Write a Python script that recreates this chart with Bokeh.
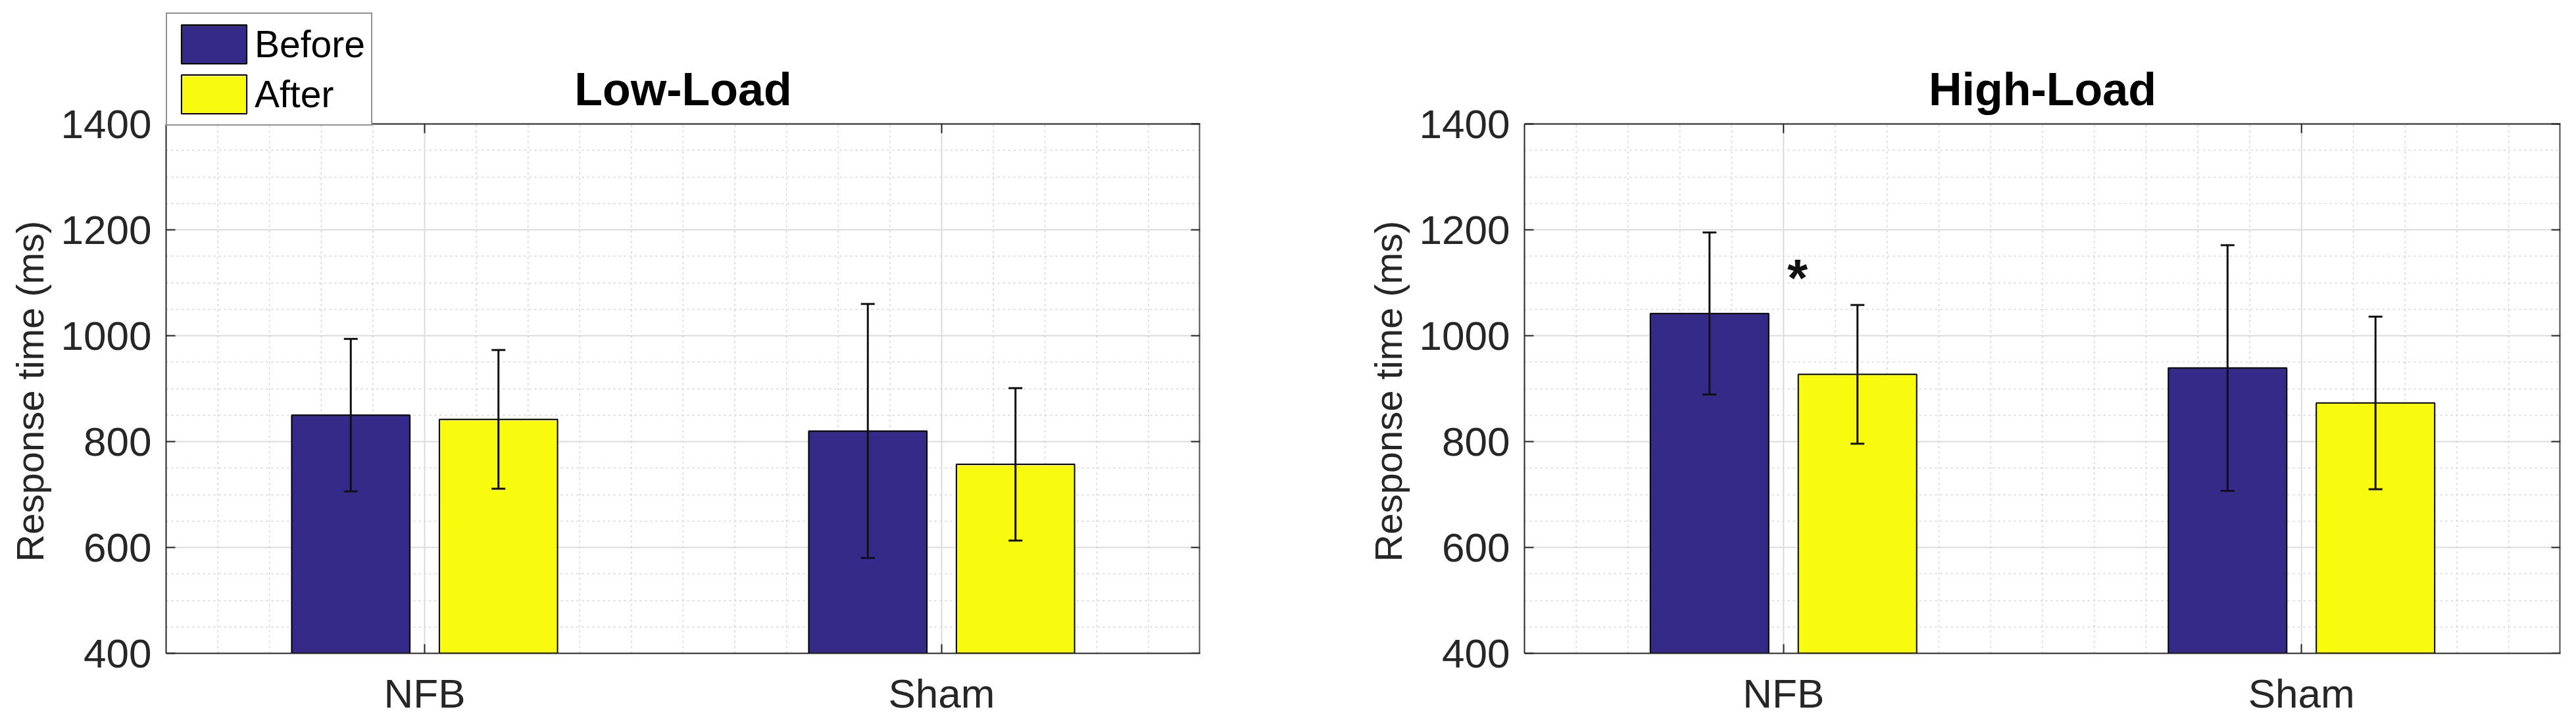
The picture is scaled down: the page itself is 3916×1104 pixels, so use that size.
from bokeh.plotting import figure
from bokeh.layouts import row
from bokeh.models import (Range1d, FixedTicker, ColumnDataSource, Whisker, TeeHead,
                          Legend, LegendItem)
from bokeh.embed import file_html
from bokeh.resources import INLINE
from bokeh.core.properties import value

# ---------------- data ----------------
groups = ["NFB", "Sham"]
conditions = ["Before", "After"]
panel_titles = ["Low-Load", "High-Load"]

low_before = [850, 820]
low_before_err = [144, 240]
low_after = [842, 757]
low_after_err = [131, 144]

high_before = [1042, 939]
high_before_err = [153, 232]
high_after = [927, 873]
high_after_err = [131, 163]

y_ticks = [400, 600, 800, 1000, 1200, 1400]
y_label = "Response time (ms)"
sig_text = "*"
sig_group = "NFB"
sig_value = 1119

# ---------------- style ----------------
BEFORE_COLOR = "#352a87"
AFTER_COLOR = "#f9fb0e"
AXIS_COLOR = "#262626"
FONT = "Liberation Sans"
BAR_W = 0.2286
OFFSET = 0.1428

AX_H = 805          # pixel height of the axes box
EXTRA_H = 169       # room above the box (legend / title) kept inside the frame
Y0, Y1 = y_ticks[0], y_ticks[-1]
PX = (Y1 - Y0) / AX_H   # data units per pixel (vertical)
TICK = 14
NBSP = "\u00a0"


def make_panel(title, before, before_err, after, after_err, frame_w,
               border_left, border_right, with_legend=False, star=False):
    y_top = Y1 + EXTRA_H * PX
    p = figure(frame_width=frame_w, frame_height=AX_H + EXTRA_H,
               x_range=Range1d(0.5, 2.5), y_range=Range1d(Y0, y_top),
               output_backend="svg", toolbar_location=None, title=None,
               min_border_left=border_left, min_border_right=border_right,
               min_border_top=19, min_border_bottom=90,
               background_fill_color="white", border_fill_color="white")
    p.outline_line_color = None
    xpx = 2.0 / frame_w   # data units per pixel (horizontal)

    pos = [i + 1 for i in range(len(groups))]
    xb = [x - OFFSET for x in pos]
    xa = [x + OFFSET for x in pos]

    # vertical grid lines limited to the axes box
    minor_x = [round(0.5 + 0.1 * k, 2) for k in range(1, 20)]
    minor_x = [v for v in minor_x if v not in pos]
    p.segment(x0=minor_x, x1=minor_x, y0=Y0, y1=Y1, line_color="#d2d2d2",
              line_width=1.5, line_dash="3 5")
    p.segment(x0=pos, x1=pos, y0=Y0, y1=Y1, line_color="#dcdcdc", line_width=2)

    src_b = ColumnDataSource(dict(x=xb, top=before,
                                  lo=[m - e for m, e in zip(before, before_err)],
                                  hi=[m + e for m, e in zip(before, before_err)]))
    src_a = ColumnDataSource(dict(x=xa, top=after,
                                  lo=[m - e for m, e in zip(after, after_err)],
                                  hi=[m + e for m, e in zip(after, after_err)]))

    rb = p.vbar(x="x", top="top", bottom=Y0, width=BAR_W, source=src_b,
                fill_color=BEFORE_COLOR, line_color="black", line_width=2)
    ra = p.vbar(x="x", top="top", bottom=Y0, width=BAR_W, source=src_a,
                fill_color=AFTER_COLOR, line_color="black", line_width=2)

    for src in (src_b, src_a):
        w = Whisker(base="x", upper="hi", lower="lo", source=src,
                    line_color="#111111", line_width=3, level="overlay",
                    upper_head=TeeHead(size=21, line_color="#111111", line_width=3),
                    lower_head=TeeHead(size=21, line_color="#111111", line_width=3))
        p.add_layout(w)

    # box: top and right edges + inward ticks there
    p.segment(x0=[0.5], x1=[2.5], y0=[Y1], y1=[Y1], line_color="#4d4d4d", line_width=2.5)
    p.segment(x0=[2.5], x1=[2.5], y0=[Y0], y1=[Y1], line_color="#4d4d4d", line_width=4)
    p.segment(x0=[2.5 - TICK * xpx] * len(y_ticks), x1=[2.5] * len(y_ticks),
              y0=y_ticks, y1=y_ticks, line_color=AXIS_COLOR, line_width=2)
    p.segment(x0=pos, x1=pos, y0=[Y1] * len(pos), y1=[Y1 - TICK * PX] * len(pos),
              line_color=AXIS_COLOR, line_width=2)

    # axes
    minor_y = [v for v in range(Y0, Y1 + 1, 50) if v not in y_ticks]
    p.yaxis.ticker = FixedTicker(ticks=y_ticks, minor_ticks=minor_y)
    p.yaxis.bounds = (Y0, Y1)
    p.xaxis.ticker = FixedTicker(ticks=pos, minor_ticks=[])
    p.xaxis.major_label_overrides = {pos[i]: g for i, g in enumerate(groups)}

    for ax in (p.xaxis, p.yaxis):
        ax.axis_line_color = AXIS_COLOR
        ax.axis_line_width = 2
        ax.major_tick_in = TICK
        ax.major_tick_out = 0
        ax.major_tick_line_color = AXIS_COLOR
        ax.major_tick_line_width = 2
        ax.minor_tick_in = 0
        ax.minor_tick_out = 0
        ax.major_label_text_font = FONT
        ax.major_label_text_font_size = "62px"
        ax.major_label_text_color = AXIS_COLOR
    p.xaxis.major_label_standoff = 26
    p.yaxis.major_label_standoff = 22
    # trailing no-break spaces re-centre the label on the axes box (frame is taller)
    p.yaxis.axis_label = y_label + NBSP * 11
    p.yaxis.axis_label_text_font = FONT
    p.yaxis.axis_label_text_font_size = "58px"
    p.yaxis.axis_label_text_font_style = "normal"
    p.yaxis.axis_label_text_color = AXIS_COLOR
    p.yaxis.axis_label_standoff = 12

    # horizontal grids (limited to the ticks up to 1400)
    p.xgrid.visible = False
    p.ygrid.grid_line_color = "#dcdcdc"
    p.ygrid.grid_line_width = 2
    p.ygrid.minor_grid_line_color = "#d2d2d2"
    p.ygrid.minor_grid_line_width = 1.5
    p.ygrid.minor_grid_line_dash = "3 5"

    # title drawn just above the axes box
    p.text(x=[1.5], y=[Y1 + 53 * PX], text=[title], text_font=value(FONT),
           text_font_size="70px", text_font_style="bold", text_color="black",
           text_align="center", text_baseline="alphabetic")

    if star:
        sx = pos[groups.index(sig_group)] + 0.027
        p.text(x=[sx], y=[sig_value - 8 * PX], text=[sig_text], text_font=value(FONT),
               text_font_size="80px", text_font_style="bold", text_color="#111111",
               text_align="center", text_baseline="middle")

    if with_legend:
        legend = Legend(items=[LegendItem(label=conditions[0], renderers=[rb]),
                               LegendItem(label=conditions[1], renderers=[ra])],
                        location="top_left")
        legend.margin = 0
        legend.padding = 9
        legend.spacing = 2
        legend.glyph_width = 124
        legend.glyph_height = 74
        legend.label_height = 74
        legend.label_standoff = 0
        legend.label_text_font = FONT
        legend.label_text_font_size = "57px"
        legend.label_text_color = "black"
        legend.border_line_color = AXIS_COLOR
        legend.border_line_width = 2
        legend.background_fill_color = "white"
        legend.background_fill_alpha = 1.0
        p.add_layout(legend)
    return p


p1 = make_panel(panel_titles[0], low_before, low_before_err, low_after, low_after_err,
                frame_w=1572, border_left=252, border_right=100, with_legend=True)
p2 = make_panel(panel_titles[1], high_before, high_before_err, high_after, high_after_err,
                frame_w=1575, border_left=393, border_right=8, star=True)

layout = row(p1, p2)
open("out.html", "w").write(file_html(layout, INLINE))
